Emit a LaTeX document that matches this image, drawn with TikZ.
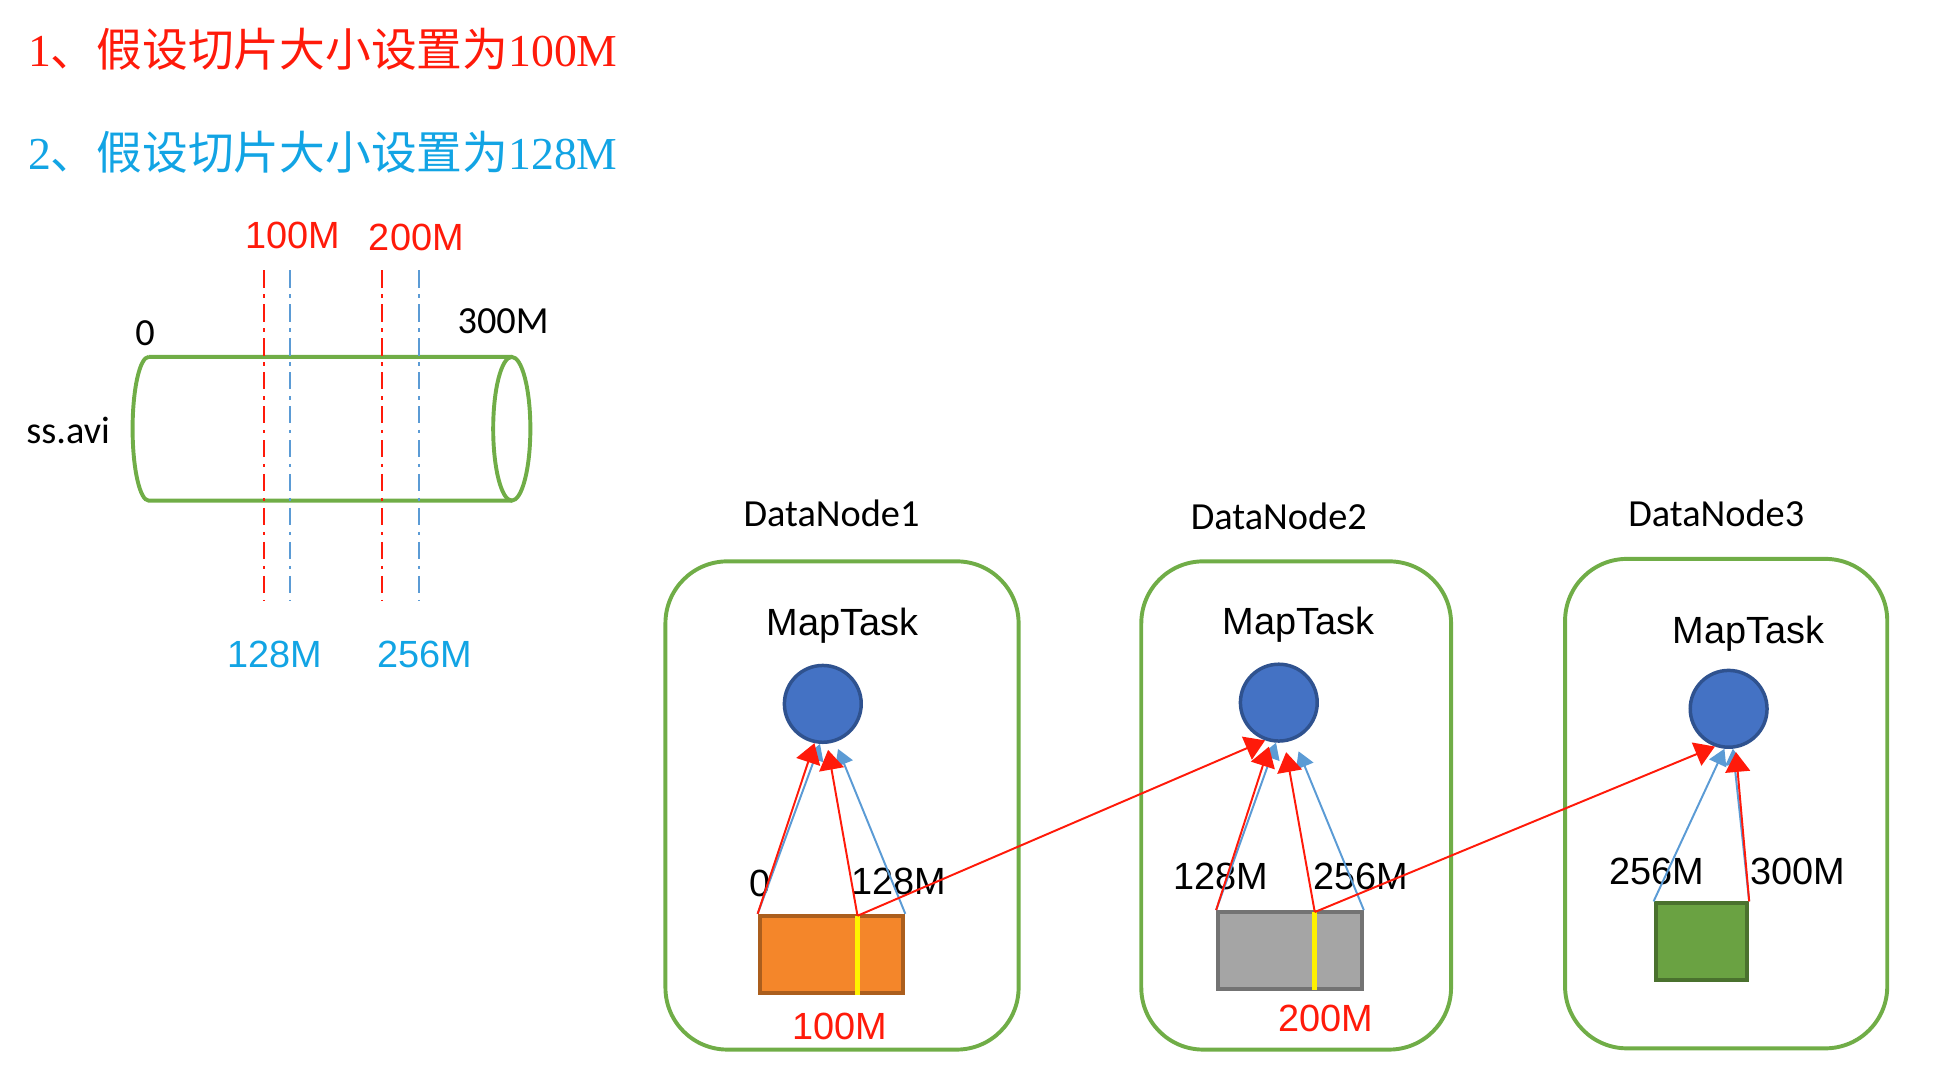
\documentclass[tikz,border=0pt]{standalone}
\usepackage{fontspec}
\setmainfont{Liberation Serif}
\newfontfamily\cjk{Noto Sans CJK SC}
\newfontfamily\arialf{Liberation Sans}
\newfontfamily\calib{Carlito}
\usetikzlibrary{arrows.meta,positioning,calc}
\definecolor{hred}{HTML}{FF1A0A}
\definecolor{hblue}{HTML}{12A4E4}
\definecolor{lblue}{HTML}{5B9BD5}
\definecolor{hgreen}{HTML}{70AD47}
\definecolor{taskfill}{HTML}{4472C4}
\definecolor{taskline}{HTML}{2F528F}
\definecolor{blkorange}{HTML}{F4862A}
\definecolor{blkgray}{HTML}{A5A5A5}
\definecolor{blkgreen}{HTML}{6AA242}

\begin{document}
\begin{tikzpicture}[every node/.style={font=\arialf\fontsize{8.7}{10}\selectfont, inner sep=0pt},
  title/.style={anchor=west, font=\fontsize{10.5}{12}\selectfont},
  calb/.style={font=\calib\fontsize{8.8}{10}\selectfont},
  dn/.style={draw=hgreen, line width=0.9pt, rounded corners=0.5cm},
  task/.style={circle, draw=taskline, fill=taskfill, line width=0.8pt, minimum size=0.62cm},
  blk/.style={draw, line width=0.9pt, minimum height=0.62cm},
  redarr/.style={draw=hred, line width=0.45pt, -{Triangle[length=1.6mm,width=2.0mm]}},
  bluearr/.style={draw=lblue, line width=0.45pt, -{Triangle[length=1.3mm,width=1.5mm]}},
  cut/.style={line width=0.5pt, dash pattern=on 4pt off 1.5pt on 0.8pt off 1.5pt}]
  \useasboundingbox (0,0) rectangle (15.68,-8.65);

  % titles
  \node[title, text=hred] (t1) at (0.22,-0.40) {1{\cjk 、假设切片大小设置为}100M};
  \node[title, text=hblue] (t2) at (0.22,-1.23) {2{\cjk 、假设切片大小设置为}128M};

  % the file
  \draw[hgreen, line width=0.9pt] (1.20,-2.88) -- (4.13,-2.88)
    (1.20,-2.88) arc[start angle=90, end angle=270, x radius=0.13, y radius=0.58] -- (4.13,-4.04);
  \draw[hgreen, line width=0.9pt] (4.13,-3.46) ellipse[x radius=0.15, y radius=0.58];
  \node[calb] (f) at (0.55,-3.47) {ss.avi};
  \node[calb] (f0) at (1.17,-2.69) {0};
  \node[calb] (f300) at (4.06,-2.59) {300M};

  % split lines
  \foreach \x/\c in {2.13/hred, 2.34/lblue, 3.08/hred, 3.38/lblue}
    \draw[cut, \c] (\x,-2.18) -- (\x,-4.85);
  \node[text=hred] (s100) at (2.36,-1.90) {100M};
  \node[text=hred] (s200) at (3.36,-1.92) {200M};
  \node[text=hblue] (s128) at (2.22,-5.28) {128M};
  \node[text=hblue] (s256) at (3.43,-5.28) {256M};

  % datanodes
  \node[dn, minimum width=2.85cm, minimum height=3.94cm] (dn1) at (6.795,-6.50) {};
  \node[dn, minimum width=2.50cm, minimum height=3.94cm] (dn2) at (10.46,-6.50) {};
  \node[dn, minimum width=2.60cm, minimum height=3.95cm] (dn3) at (13.93,-6.485) {};
  \node[calb] (l1) at (6.71,-4.14) {DataNode1};
  \node[calb] (l2) at (10.32,-4.17) {DataNode2};
  \node[calb] (l3) at (13.85,-4.14) {DataNode3};

  % map tasks
  \node[task] (c1) at (6.64,-5.68) {};
  \node[task] (c2) at (10.32,-5.67) {};
  \node[task] (c3) at (13.95,-5.72) {};
  \node (m1) at (6.80,-5.05) {MapTask};
  \node (m2) at (10.48,-5.04) {MapTask};
  \node (m3) at (14.11,-5.11) {MapTask};

  % blocks
  \node[blk, draw=blkorange!70!black, fill=blkorange, minimum width=1.16cm] (r1) at (6.71,-7.70) {};
  \node[blk, draw=blkgray!70!black, fill=blkgray, minimum width=1.16cm] (r2) at (10.41,-7.67) {};
  \node[blk, draw=blkgreen!70!black, fill=blkgreen, minimum width=0.74cm] (r3) at (13.73,-7.60) {};
  \coordinate (y1t) at (6.92,-7.39);
  \coordinate (y1b) at (6.92,-8.03);
  \coordinate (y2t) at (10.61,-7.36);
  \coordinate (y2b) at (10.61,-7.99);
  \draw[yellow, line width=1.2pt] (y1t) -- (y1b);
  \draw[yellow, line width=1.2pt] (y2t) -- (y2b);

  % offsets
  \node (o1) at (6.13,-7.13) {0};
  \node (o2) at (7.25,-7.11) {128M};
  \node[text=hred] (o3) at (6.78,-8.28) {100M};
  \node (o4) at (9.85,-7.07) {128M};
  \node (o5) at (10.98,-7.07) {256M};
  \node[text=hred] (o6) at (10.70,-8.22) {200M};
  \node (o7) at (13.37,-7.03) {256M};
  \node (o8) at (14.51,-7.03) {300M};

  % 128M splits
  \draw[bluearr] (r1.north west) -- (c1.266);
  \draw[bluearr, shorten >=0.6mm] (r1.north east) -- (c1.288);
  \draw[bluearr] (r2.north west) -- (c2.266);
  \draw[bluearr, shorten >=1mm] (r2.north east) -- (c2.292);
  \draw[bluearr] (r3.north west) -- (c3.264);
  \draw[bluearr] (r3.north east) -- (c3.276);
  % 100M splits
  \draw[redarr] (r1.north west) -- (c1.258);
  \draw[redarr, shorten >=0.5mm] (y1t) -- (c1.276);
  \draw[redarr] (y1t) -- (c2.250);
  \draw[redarr, shorten >=0.4mm] (r2.north west) -- (c2.258);
  \draw[redarr, shorten >=0.8mm] (y2t) -- (c2.278);
  \draw[redarr] (y2t) -- (c3.250);
  \draw[redarr, shorten >=0.3mm] (r3.north east) -- (c3.280);
\end{tikzpicture}
\end{document}
